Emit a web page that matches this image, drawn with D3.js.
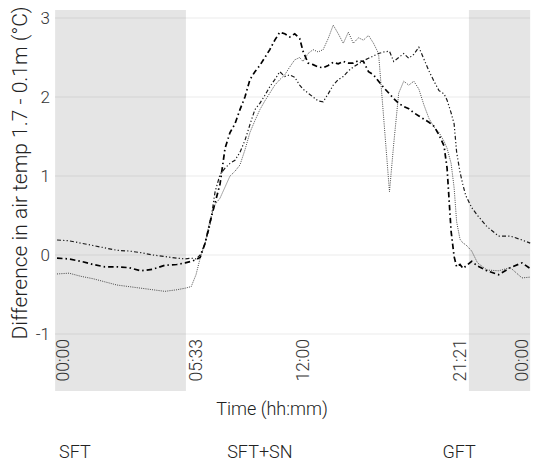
<!DOCTYPE html>
<html>
<head>
<meta charset="utf-8">
<script src="https://cdn.jsdelivr.net/npm/d3@7"></script>
<style>
  body { margin: 0; background: #fff; }
  text { font-family: Roboto, "Liberation Sans", sans-serif; font-weight: 300; }
</style>
</head>
<body>
<div id="chart"></div>
<script>
// time of each reading (hours since midnight)
const hours = [-0.25, 0.25, 0.75, 1.25, 1.75, 2.25, 2.75, 3.25, 3.75, 4.25, 4.75,
  5.1, 5.35, 5.55,
  5.8, 6.1, 6.4, 6.7, 7.0, 7.3, 7.6, 7.9, 8.2, 8.5, 8.8, 9.1, 9.4, 9.7, 10.0, 10.3, 10.6, 10.9, 11.2, 11.5, 11.8,
  12.0,
  12.3, 12.6, 12.9, 13.2, 13.5, 13.8, 14.1, 14.4, 14.7, 15.0, 15.3, 15.6, 15.9, 16.2, 16.5, 16.8,
  17.15,
  17.4, 17.7, 18.0, 18.3, 18.6, 18.9, 19.2, 19.5, 19.8, 20.1, 20.4,
  20.58, 20.82, 21.0, 21.15, 21.35, 21.48, 21.6, 21.85, 22.1, 22.5, 23.0, 23.5, 24.0, 24.35];

// difference in air temp 1.7 - 0.1 m (°C), three runs
const dashDot = [-0.04, -0.05, -0.08, -0.12, -0.15, -0.15, -0.16, -0.2, -0.18, -0.13, -0.12,
  -0.1, -0.08, -0.06,
  -0.03, 0.15, 0.42, 0.66, 0.9, 1.35, 1.55, 1.66, 1.84, 2.0, 2.22, 2.32, 2.4, 2.5, 2.6, 2.72, 2.82, 2.8, 2.76, 2.8, 2.74,
  2.58,
  2.43, 2.41, 2.38, 2.37, 2.4, 2.44, 2.42, 2.45, 2.43, 2.43, 2.46, 2.45, 2.32, 2.28, 2.2, 2.12,
  2.04,
  1.98, 1.92, 1.88, 1.85, 1.8, 1.76, 1.72, 1.68, 1.63, 1.52, 1.38,
  1.1, 0.3, -0.02, -0.15, -0.12, -0.17, -0.14, -0.08, -0.14, -0.2, -0.25, -0.16, -0.1, -0.17];

const dashDotDot = [0.19, 0.18, 0.15, 0.12, 0.09, 0.06, 0.05, 0.03, 0.0, -0.02, -0.04,
  -0.05, -0.04, -0.05,
  0.0, 0.15, 0.38, 0.8, 1.02, 1.1, 1.16, 1.2, 1.3, 1.45, 1.65, 1.84, 1.92, 2.02, 2.13, 2.22, 2.32, 2.26, 2.28, 2.25, 2.15,
  2.1,
  2.05, 2.0, 1.95, 1.94, 2.04, 2.15, 2.22, 2.26, 2.33, 2.38, 2.42, 2.46, 2.49, 2.52, 2.55, 2.57,
  2.58,
  2.45, 2.5, 2.55, 2.49, 2.54, 2.63, 2.48, 2.33, 2.2, 2.08, 2.04,
  1.96, 1.8, 1.66, 1.3, 1.05, 0.88, 0.75, 0.6, 0.5, 0.36, 0.24, 0.24, 0.19, 0.15];

const dotted = [-0.24, -0.23, -0.27, -0.3, -0.34, -0.38, -0.4, -0.42, -0.44, -0.46, -0.44,
  -0.42, -0.4, -0.25,
  -0.04, 0.15, 0.45, 0.64, 0.72, 0.86, 1.0, 1.06, 1.14, 1.33, 1.55, 1.7, 1.84, 1.95, 2.05, 2.15, 2.22, 2.28, 2.38, 2.47, 2.5,
  2.45,
  2.55, 2.6, 2.57, 2.6, 2.74, 2.91, 2.8, 2.68, 2.82, 2.68, 2.75, 2.72, 2.78, 2.68, 2.55, 1.75,
  0.8,
  1.4, 2.05, 2.2, 2.15, 2.2, 2.1, 1.9, 1.73, 1.62, 1.55, 1.44,
  1.35, 1.16, 0.85, 0.42, 0.2, 0.15, 0.13, 0.05, -0.1, -0.19, -0.2, -0.16, -0.29, -0.28];

// axis ticks
const tickHours = [0, 5.55, 12, 21.35, 24];
const tickLabels = ["00:00", "05:33", "12:00", "21:21", "00:00"];
const yTicks = [-1, 0, 1, 2, 3];

// shaded periods (hours) and the treatment names under the chart
const shadeStart = [-0.33, 21.73];
const shadeEnd = [5.13, 24.35];
const periodNames = ["SFT", "SFT+SN", "GFT"];
const periodCentres = [0.5, 9.4, 21.3];

const width = 533, height = 464;
const panel = { left: 55, right: 530, top: 10, bottom: 391 };

const svg = d3.select("#chart").append("svg")
  .attr("width", width)
  .attr("height", height);

// time axis is stretched piece by piece between the labelled times
const x = d3.scaleLinear()
  .domain(tickHours)
  .range([63, 196, 303, 460, 522]);
const y = d3.scaleLinear()
  .domain([-1, 3])
  .range([334, 18]);

// horizontal grid
svg.append("g")
  .selectAll("line")
  .data(yTicks)
  .enter().append("line")
  .attr("x1", panel.left)
  .attr("x2", panel.right)
  .attr("y1", d => y(d))
  .attr("y2", d => y(d))
  .style("stroke", "#ebebeb")
  .style("stroke-width", 1);

// shaded night periods
svg.append("g")
  .selectAll("rect")
  .data(shadeStart.map((s, i) => [s, shadeEnd[i]]))
  .enter().append("rect")
  .attr("x", d => x(d[0]))
  .attr("width", d => x(d[1]) - x(d[0]))
  .attr("y", panel.top)
  .attr("height", panel.bottom - panel.top)
  .style("fill", "#000")
  .style("fill-opacity", 0.1);

// lines
const line = d3.line()
  .x((d, i) => x(hours[i]))
  .y(d => y(d));

const series = [
  { values: dotted, color: "#333", width: 0.9, dash: "1,1.2" },
  { values: dashDotDot, color: "#1a1a1a", width: 1.2, dash: "4,2.2,1.2,2.2,1.2,2.2" },
  { values: dashDot, color: "#000", width: 1.7, dash: "5.5,3,1.5,3" }
];

series.forEach(s => {
  svg.append("path")
    .datum(s.values)
    .attr("d", line)
    .style("fill", "none")
    .style("stroke", s.color)
    .style("stroke-width", s.width)
    .style("stroke-dasharray", s.dash);
});

// y tick labels
svg.append("g")
  .selectAll("text")
  .data(yTicks)
  .enter().append("text")
  .attr("x", 50)
  .attr("y", d => y(d))
  .attr("dy", "0.35em")
  .attr("text-anchor", "end")
  .style("font-size", "17px")
  .style("fill", "#333")
  .text(d => d);

// x tick labels, rotated
svg.append("g")
  .selectAll("text")
  .data(tickHours)
  .enter().append("text")
  .attr("transform", d => `translate(${x(d)},339) rotate(-90)`)
  .attr("dy", "0.35em")
  .attr("text-anchor", "end")
  .style("font-size", "17.5px")
  .style("fill", "#333")
  .text((d, i) => tickLabels[i]);

// axis titles
svg.append("text")
  .attr("transform", "translate(20,173) rotate(-90)")
  .attr("dy", "0.35em")
  .attr("text-anchor", "middle")
  .style("font-size", "21px")
  .style("fill", "#222")
  .text("Difference in air temp 1.7 - 0.1m (°C)");

svg.append("text")
  .attr("x", 272)
  .attr("y", 415)
  .attr("text-anchor", "middle")
  .style("font-size", "18px")
  .style("fill", "#222")
  .text("Time (hh:mm)");

// treatment names
svg.append("g")
  .selectAll("text")
  .data(periodNames)
  .enter().append("text")
  .attr("x", (d, i) => x(periodCentres[i]))
  .attr("y", 458)
  .attr("text-anchor", "middle")
  .style("font-size", "18px")
  .style("fill", "#222")
  .text(d => d);
</script>
</body>
</html>
